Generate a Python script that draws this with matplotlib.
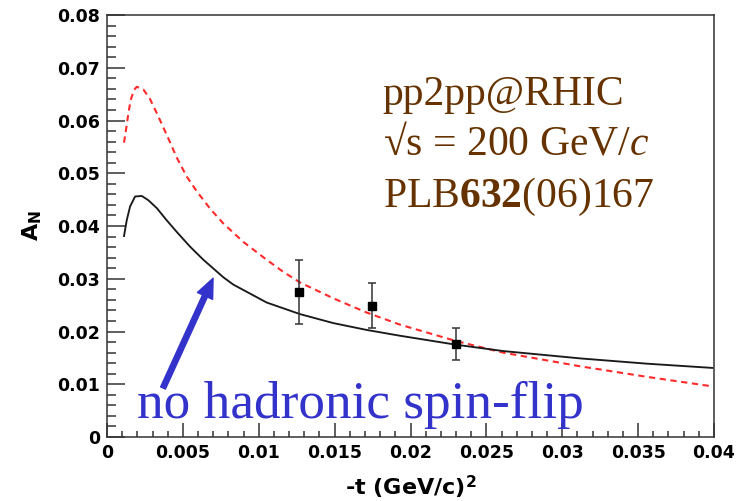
import matplotlib
matplotlib.use('Agg')
import matplotlib.pyplot as plt
from matplotlib.ticker import MultipleLocator, FuncFormatter

# mathtext pieces use the serif / sans fonts below
plt.rcParams['mathtext.fontset'] = 'custom'
plt.rcParams['mathtext.rm'] = 'Liberation Serif'
plt.rcParams['mathtext.it'] = 'Liberation Serif:italic'
plt.rcParams['mathtext.bf'] = 'Liberation Serif:bold'
plt.rcParams['mathtext.sf'] = 'DejaVu Sans:bold'

# curve without hadronic spin-flip (black, solid)
t_nohf = [0.00112, 0.0013, 0.00152, 0.00185, 0.00229, 0.00272, 0.00328, 0.00393,
          0.00459, 0.00547, 0.00635, 0.00766, 0.00832, 0.01052, 0.01272, 0.01491,
          0.01711, 0.01931, 0.0230, 0.0261, 0.0312, 0.0356, 0.0399]
an_nohf = [0.0381, 0.0411, 0.0437, 0.0456, 0.0457, 0.0449, 0.0434, 0.0411,
           0.0389, 0.0361, 0.0336, 0.0303, 0.0289, 0.0255, 0.0233, 0.0216,
           0.0203, 0.0192, 0.0175, 0.0163, 0.0149, 0.0139, 0.0131]

# fit curve (red, dashed)
t_fit = [0.00112, 0.00125, 0.00141, 0.00156, 0.00178, 0.00196, 0.00239, 0.00283,
         0.00328, 0.00371, 0.00415, 0.00459, 0.00525, 0.00591, 0.00679, 0.00766,
         0.00898, 0.01052, 0.01162, 0.01272, 0.01491, 0.01711, 0.01931, 0.0230,
         0.0261, 0.0312, 0.0356, 0.0399]
an_fit = [0.0558, 0.0582, 0.0614, 0.0639, 0.0658, 0.0664, 0.0659, 0.0641,
          0.0614, 0.0587, 0.0559, 0.0530, 0.0494, 0.0466, 0.0433, 0.0405,
          0.0370, 0.0336, 0.0313, 0.0293, 0.0263, 0.0236, 0.0213, 0.0182,
          0.0160, 0.0134, 0.0114, 0.0096]

# pp2pp data
t_data = [0.01267, 0.01748, 0.0230]
an_data = [0.02755, 0.0249, 0.01763]
an_err = [0.0061, 0.0043, 0.0031]

arrow_tail = (0.00369, 0.0093)
arrow_tip = (0.00699, 0.0301)

fig = plt.figure(figsize=(7.36, 5.01), dpi=100)
ax = fig.add_axes([0.1454, 0.1277, 0.8247, 0.8423])

ax.plot(t_fit, an_fit, color='#ff2a2a', lw=1.5, linestyle=(0, (3, 2.2)))
ax.plot(t_nohf, an_nohf, color='#1a1a1a', lw=1.35)
ax.errorbar(t_data, an_data, yerr=an_err, fmt='s', color='black', ms=5.5,
            ecolor='#333333', elinewidth=1.1, capsize=2.6, capthick=1.1)

ax.set_xlim(0, 0.04)
ax.set_ylim(0, 0.08)

# ROOT style ticks
ax.xaxis.set_major_locator(MultipleLocator(0.005))
ax.xaxis.set_minor_locator(MultipleLocator(0.001))
ax.yaxis.set_major_locator(MultipleLocator(0.01))
ax.yaxis.set_minor_locator(MultipleLocator(0.002))
fmt = FuncFormatter(lambda v, p: '%g' % round(v, 4))
ax.xaxis.set_major_formatter(fmt)
ax.yaxis.set_major_formatter(fmt)
ax.tick_params(axis='both', which='both', direction='in', top=False, right=False,
               width=1.1, color='#333333')
ax.tick_params(axis='x', which='major', length=10, pad=5)
ax.tick_params(axis='x', which='minor', length=4.5)
ax.tick_params(axis='y', which='major', length=13, pad=5)
ax.tick_params(axis='y', which='minor', length=6.5)
for lab in ax.get_xticklabels() + ax.get_yticklabels():
    lab.set_fontfamily('DejaVu Sans')
    lab.set_fontweight('bold')
    lab.set_fontsize(12.5)
for s in ax.spines.values():
    s.set_linewidth(1.1)
    s.set_color('#333333')

ax.set_xlabel(r'-t (GeV/c)$^\mathsf{2}$', fontfamily='DejaVu Sans',
              fontweight='bold', fontsize=16, labelpad=8)
ax.set_ylabel(r'A$_\mathsf{N}$', fontfamily='DejaVu Sans',
              fontweight='bold', fontsize=16, labelpad=10)

brown = '#663300'
serif = ['Liberation Serif', 'DejaVu Serif']
fig.text(0.520, 0.790, 'pp2pp@RHIC', color=brown, fontsize=30, family=serif)
fig.text(0.520, 0.691, '√s = 200 GeV/$c$', color=brown, fontsize=30, family=serif)
fig.text(0.520, 0.587, r'PLB$\mathbf{632}$(06)167', color=brown, fontsize=30, family=serif)

blue = '#3333cc'
fig.text(0.186, 0.166, 'no hadronic spin-flip', color=blue, fontsize=38.3, family=serif)
ax.annotate('', xy=arrow_tip, xytext=arrow_tail,
            arrowprops=dict(arrowstyle='simple,head_length=1.4,head_width=1.2,tail_width=0.38',
                            mutation_scale=10, color=blue, shrinkA=0, shrinkB=0))

plt.savefig('out.png', dpi=100)
